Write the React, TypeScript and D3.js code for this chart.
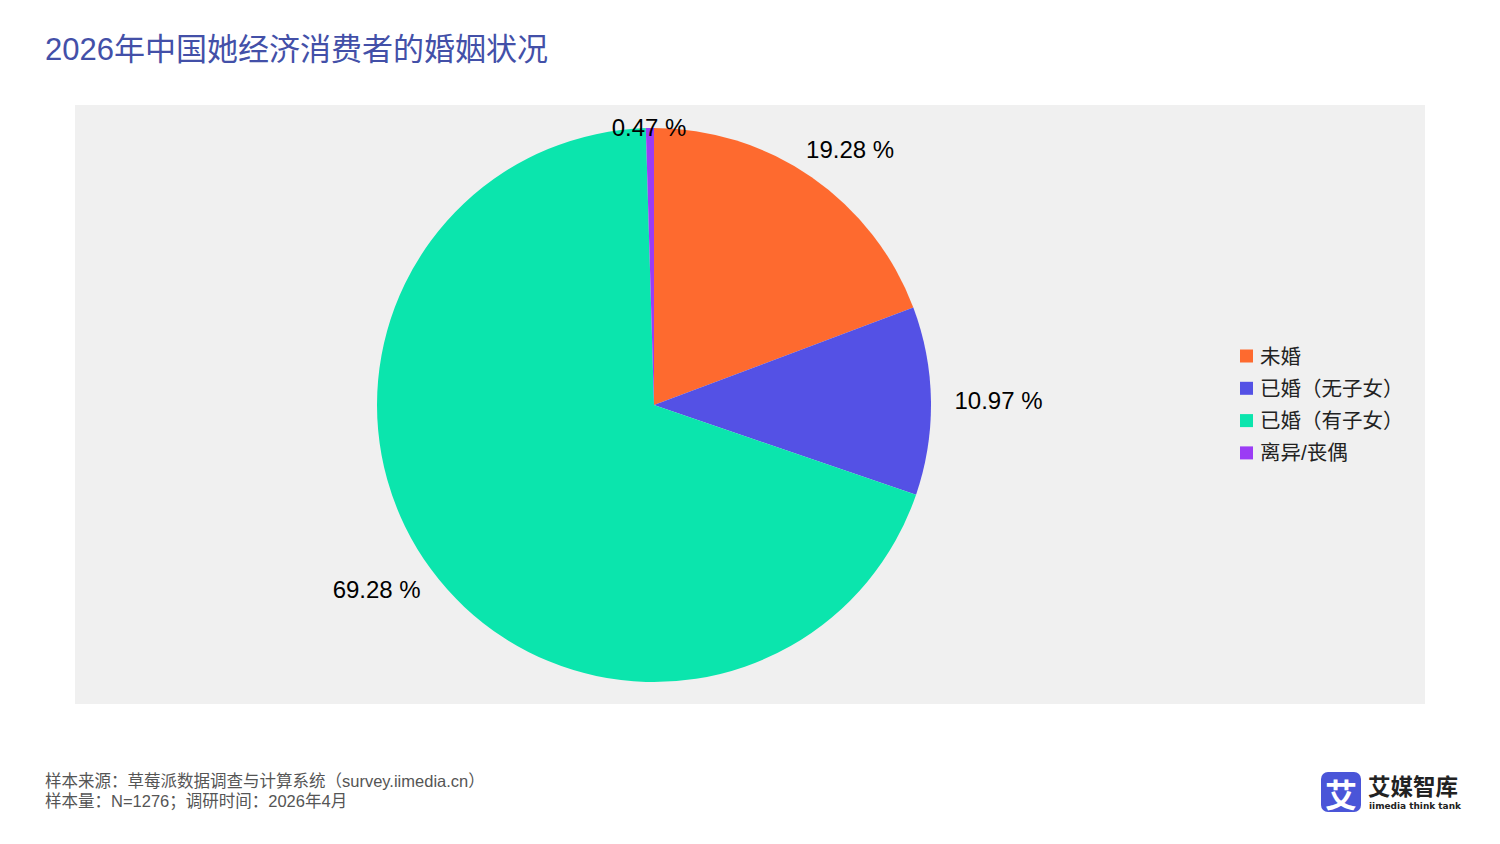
import React from "react";
import * as d3 from "d3";

const categories = ["未婚", "已婚（无子女）", "已婚（有子女）", "离异/丧偶"];
const values = [19.28, 10.97, 69.28, 0.47];
const colors = ["#FE6A2F", "#5451E5", "#0BE5AD", "#9B3CF5"];
const titleText = "2026年中国她经济消费者的婚姻状况";
const footerLines = [
  "样本来源：草莓派数据调查与计算系统（survey.iimedia.cn）",
  "样本量：N=1276；调研时间：2026年4月",
];

const W = 1500;
const H = 844;
const plot = { x: 75, y: 105, w: 1350, h: 599 };
const cx = 654;
const cy = 405;
const R = 277;
const labelFont = 24;
const FONT = "'Liberation Sans', Arial, 'Noto Sans CJK SC', sans-serif";

export default function App() {
  const pie = d3.pie<number>().sort(null).startAngle(0).endAngle(2 * Math.PI)(values);
  const arc = d3.arc<d3.PieArcDatum<number>>().innerRadius(0).outerRadius(R);

  const labels = pie.map((d, i) => {
    const a = (d.startAngle + d.endAngle) / 2;
    const s = Math.sin(a);
    const c = -Math.cos(a);
    const text = `${values[i].toFixed(2)} %`;
    const w = text.length * labelFont * 0.53;
    const h = labelFont * 0.85;
    const g = 23;
    const x = cx + R * s + s * (w / 2 + g);
    let y = cy + R * c + c * (h / 2 + g);
    y = Math.max(y, plot.y + 22);
    return { x, y, text };
  });

  return (
    <svg
      width={W}
      height={H}
      style={{ position: "absolute", left: 0, top: 0, background: "#fff" }}
      fontFamily={FONT}
    >
      <rect x={0} y={0} width={W} height={H} fill="#ffffff" />
      <text x={45} y={60} fontSize={31} fill="#4350A8">
        {titleText}
      </text>
      <rect x={plot.x} y={plot.y} width={plot.w} height={plot.h} fill="#F0F0F0" />
      <g transform={`translate(${cx},${cy})`}>
        {pie.map((d, i) => (
          <path key={i} d={arc(d) || ""} fill={colors[i]} stroke="none" />
        ))}
      </g>
      {labels.map((l, i) => (
        <text
          key={i}
          x={l.x}
          y={l.y}
          fontSize={labelFont}
          textAnchor="middle"
          dominantBaseline="central"
          fill="#000"
        >
          {l.text}
        </text>
      ))}
      <g>
        {categories.map((c, i) => (
          <g key={i} transform={`translate(1240, ${356 + i * 32.3})`}>
            <rect x={0} y={-6.5} width={13} height={13} fill={colors[i]} />
            <text x={20} y={0} fontSize={20.5} dominantBaseline="central" fill="#222">
              {c}
            </text>
          </g>
        ))}
      </g>
      {footerLines.map((t, i) => (
        <text key={i} x={45} y={787 + i * 20} fontSize={16.5} fill="#555">
          {t}
        </text>
      ))}
      <g>
        <rect x={1321} y={772} width={40} height={40} rx={7} fill="#4A55D8" />
        <text
          x={1341}
          y={793}
          fontSize={32}
          fontWeight="bold"
          fill="#fff"
          textAnchor="middle"
          dominantBaseline="central"
          fontFamily="'Noto Sans CJK SC', sans-serif"
        >
          艾
        </text>
        <text
          x={1368}
          y={795}
          fontSize={22.5}
          fontWeight="bold"
          fill="#222"
          fontFamily="'Noto Sans CJK SC', sans-serif"
        >
          艾媒智库
        </text>
        <text
          x={1369}
          y={809}
          fontSize={8.5}
          fontWeight="bold"
          fill="#222"
          textLength={92}
          lengthAdjust="spacingAndGlyphs"
          fontFamily="'DejaVu Sans', sans-serif"
        >
          iimedia think tank
        </text>
      </g>
    </svg>
  );
}
